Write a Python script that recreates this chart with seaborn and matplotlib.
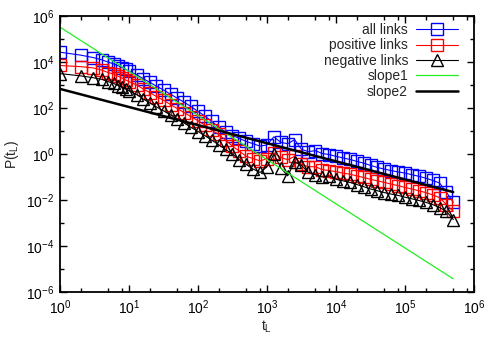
import numpy as np
import pandas as pd
import seaborn as sns
import matplotlib.pyplot as plt
from matplotlib.ticker import LogLocator, NullFormatter

# link lifetime t_L (log binned after 10)
t_L = [1, 2, 3, 4, 5, 6, 7, 8, 9, 10,
       13, 16, 20, 25, 32, 40, 50, 63, 79, 100,
       126, 158, 200, 251, 316, 398, 501, 631, 794, 1000,
       1259, 1585, 1995, 2512, 3162, 3981, 5012, 6310, 7943, 10000,
       12589, 15849, 19953, 25119, 31623, 39811, 50119, 63096, 79433, 100000,
       125893, 158489, 199526, 251189, 316228, 398107, 501187]

all_links = [2.69e4, 2.0e4, 1.58e4, 1.26e4, 1.0e4, 8.3e3, 6.9e3, 5.75e3, 4.8e3, 4.0e3,
             2.8e3, 1.9e3, 1.32e3, 890, 600, 400, 270, 178, 117, 71,
             45, 26, 15, 8.9, 6.3, 4.8, 3.5, 2.8, 2.2, 2.5,
             5.6, 3.2, 2.8, 4.2, 1.6, 1.26, 1.4, 1.05, 0.95, 0.79,
             0.68, 0.58, 0.48, 0.40, 0.32, 0.26, 0.22, 0.19, 0.166, 0.148,
             0.126, 0.107, 0.089, 0.071, 0.055, 0.022, 0.0079]

positive_links = [7.1e3, 6.3e3, 5.6e3, 4.5e3, 3.5e3, 3.0e3, 2.4e3, 2.0e3, 1.66e3, 1.41e3,
                  1.0e3, 680, 470, 316, 214, 141, 95, 63, 42, 28,
                  17.8, 11.2, 7.1, 4.0, 2.2, 1.32, 0.79, 0.63, 0.5, 0.63,
                  1.12, 0.71, 0.56, 0.79, 0.35, 0.28, 0.28, 0.21, 0.19, 0.17,
                  0.148, 0.132, 0.112, 0.095, 0.079, 0.068, 0.058, 0.049, 0.042, 0.035,
                  0.030, 0.025, 0.021, 0.0166, 0.0126, 0.0063, 0.0032]

negative_links = [3.16e3, 2.5e3, 2.1e3, 1.78e3, 1.41e3, 1.17e3, 955, 794, 661, 562,
                  380, 251, 166, 112, 74, 50, 33, 22, 14.5, 9.5,
                  6.3, 4.0, 2.5, 1.58, 1.0, 0.56, 0.35, 0.22, 0.158, 0.28,
                  1.0, 0.25, 0.112, 0.45, 0.32, 0.158, 0.126, 0.1, 0.112, 0.079,
                  0.068, 0.058, 0.047, 0.038, 0.030, 0.025, 0.021, 0.018, 0.0158, 0.0132,
                  0.0112, 0.0095, 0.0079, 0.0063, 0.0047, 0.0032, 0.0014]

# fitted power laws, end points
fit_x = [1, 5e5]
slope1 = [3.3e5, 3.7e-6]
slope2 = [680, 0.022]

sns.set_style('ticks')
plt.rcParams['font.family'] = ['Liberation Sans', 'DejaVu Sans']
plt.rcParams['mathtext.default'] = 'regular'
plt.rcParams['xtick.direction'] = 'in'
plt.rcParams['ytick.direction'] = 'in'

fig = plt.figure(figsize=(5, 3.5), dpi=100)
ax = fig.add_axes([0.12, 0.166, 0.828, 0.788])
ax.set(xscale='log', yscale='log')

series = [('all links', all_links, 'blue', 's'),
          ('positive links', positive_links, 'red', 's'),
          ('negative links', negative_links, 'black', '^')]
for name, vals, col, mk in series:
    df = pd.DataFrame({'t': t_L, 'p': vals})
    sns.lineplot(data=df, x='t', y='p', ax=ax, color=col, lw=0.8, marker=mk,
                 markersize=9, mfc='none', mec=col, mew=1.0, label=name,
                 errorbar=None)

sns.lineplot(x=fit_x, y=slope1, ax=ax, color='#22ee22', lw=0.9, label='slope1')
sns.lineplot(x=fit_x, y=slope2, ax=ax, color='black', lw=1.8, label='slope2')

ax.set_xlim(1, 1e6)
ax.set_ylim(1e-6, 1e6)
ax.set_xticks([10.0 ** k for k in range(0, 7)])
ax.set_yticks([10.0 ** k for k in range(-6, 7, 2)])
ax.xaxis.set_minor_locator(LogLocator(base=10, subs=(2, 5, 8), numticks=20))
ax.set_yticks([10.0 ** k for k in range(-5, 6, 2)], minor=True)
ax.xaxis.set_minor_formatter(NullFormatter())
ax.yaxis.set_minor_formatter(NullFormatter())
ax.tick_params(which='both', top=True, right=True, labelsize=10, width=1, colors='black')
ax.tick_params(which='major', length=5)
ax.tick_params(which='minor', length=3)
ax.tick_params(axis='x', which='major', pad=5)
ax.tick_params(axis='y', which='major', pad=4)
for s in ax.spines.values():
    s.set_linewidth(1.3)
    s.set_color('black')

ax.set_xlabel('t$_L$', fontsize=10, labelpad=1)
ax.set_ylabel('P(t$_L$)', fontsize=10, labelpad=4)

leg = ax.legend(loc='upper right', bbox_to_anchor=(0.985, 1.01), frameon=False,
                markerfirst=False, numpoints=1, fontsize=10, handlelength=3.0,
                handletextpad=0.6, labelspacing=0.1, borderaxespad=0.3)

fig.savefig('out.png', dpi=100)
